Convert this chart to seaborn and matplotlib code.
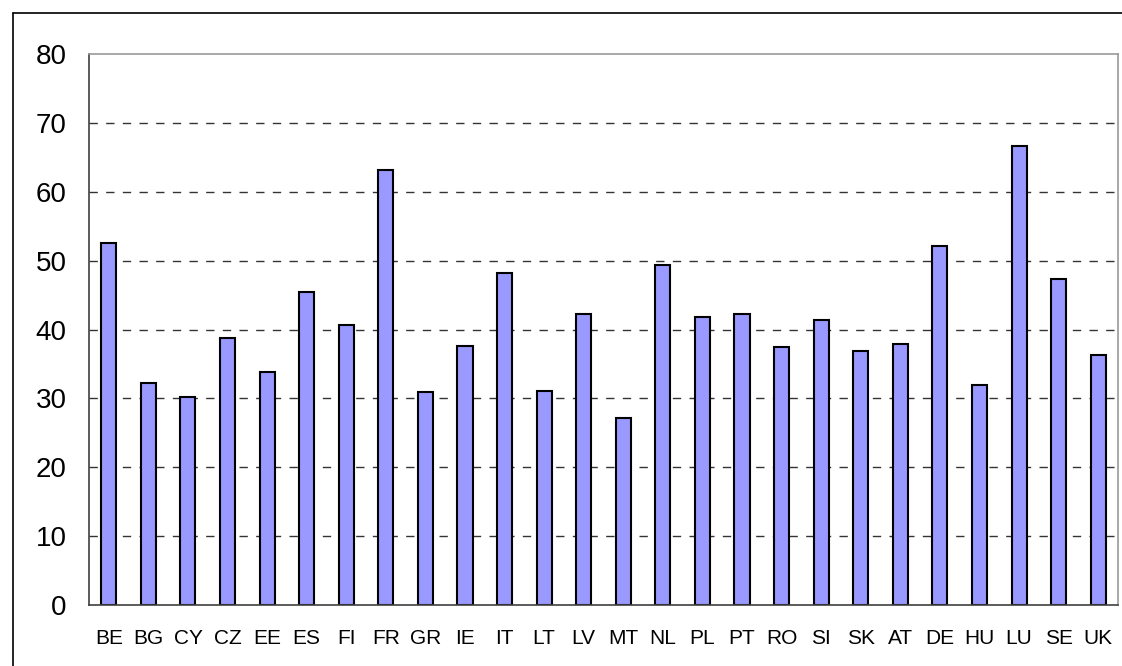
import matplotlib
matplotlib.use("Agg")
import matplotlib.pyplot as plt
import seaborn as sns
import pandas as pd
import numpy as np
from matplotlib.lines import Line2D

countries = ["BE", "BG", "CY", "CZ", "EE", "ES", "FI", "FR", "GR", "IE", "IT", "LT", "LV",
             "MT", "NL", "PL", "PT", "RO", "SI", "SK", "AT", "DE", "HU", "LU", "SE", "UK"]
values = [52.5, 32.3, 30.2, 38.8, 33.9, 45.5, 40.7, 63.2, 30.9, 37.6, 48.2, 31.1, 42.3,
          27.2, 49.3, 41.8, 42.3, 37.4, 41.4, 36.9, 37.9, 52.1, 32.0, 66.7, 47.4, 36.3]
yticks = [0, 10, 20, 30, 40, 50, 60, 70, 80]

sns.set_style("white")
plt.rcParams['font.family'] = ['Liberation Sans', 'DejaVu Sans']
plt.rcParams['text.color'] = 'black'
plt.rcParams['xtick.color'] = 'black'
plt.rcParams['ytick.color'] = 'black'

df = pd.DataFrame({"country": countries, "value": values})

fig = plt.figure(figsize=(11.22, 6.66), dpi=100)
ax = fig.add_axes([89 / 1122, 61 / 666, (1118 - 89) / 1122, (605 - 54) / 666])

sns.barplot(data=df, x="country", y="value", color="#9999FF", saturation=1,
            edgecolor="black", linewidth=1.5, width=0.38, ax=ax)

ax.set_ylim(0, 80)
ax.set_xlim(-0.5, len(countries) - 0.5)
ax.set_yticks(yticks)
ax.set_yticklabels([str(t) for t in yticks], fontsize=20)
ax.set_xticks(range(len(countries)))
ax.set_xticklabels(countries, fontsize=15)
ax.tick_params(axis="x", which="major", length=0, pad=17, labelcolor="black")
ax.set_xticks(np.arange(-0.5, len(countries), 1.0), minor=True)
ax.tick_params(axis="x", which="minor", length=6, width=1, color="#333333", direction="out")
ax.tick_params(axis="y", which="major", length=6, width=1, color="#333333", direction="out",
               pad=10, labelcolor="black")
ax.set_xlabel("")
ax.set_ylabel("")

for t in yticks[1:-1]:
    ax.axhline(t, color="#333333", linestyle=(0, (6, 6)), linewidth=1, zorder=0)

ax.spines["left"].set_color("#404040")
ax.spines["bottom"].set_color("#404040")
ax.spines["top"].set_color("#999999")
ax.spines["right"].set_color("#999999")
for s in ax.spines.values():
    s.set_linewidth(1.2)

# outer chart frame (top and left edges visible)
fig.add_artist(Line2D([13 / 1122, 1.01], [1 - 13 / 666, 1 - 13 / 666], color="black", linewidth=1.2,
                      transform=fig.transFigure))
fig.add_artist(Line2D([13 / 1122, 13 / 1122], [1 - 13 / 666, -0.01], color="black", linewidth=1.2,
                      transform=fig.transFigure))

fig.savefig("out.png", dpi=100)
